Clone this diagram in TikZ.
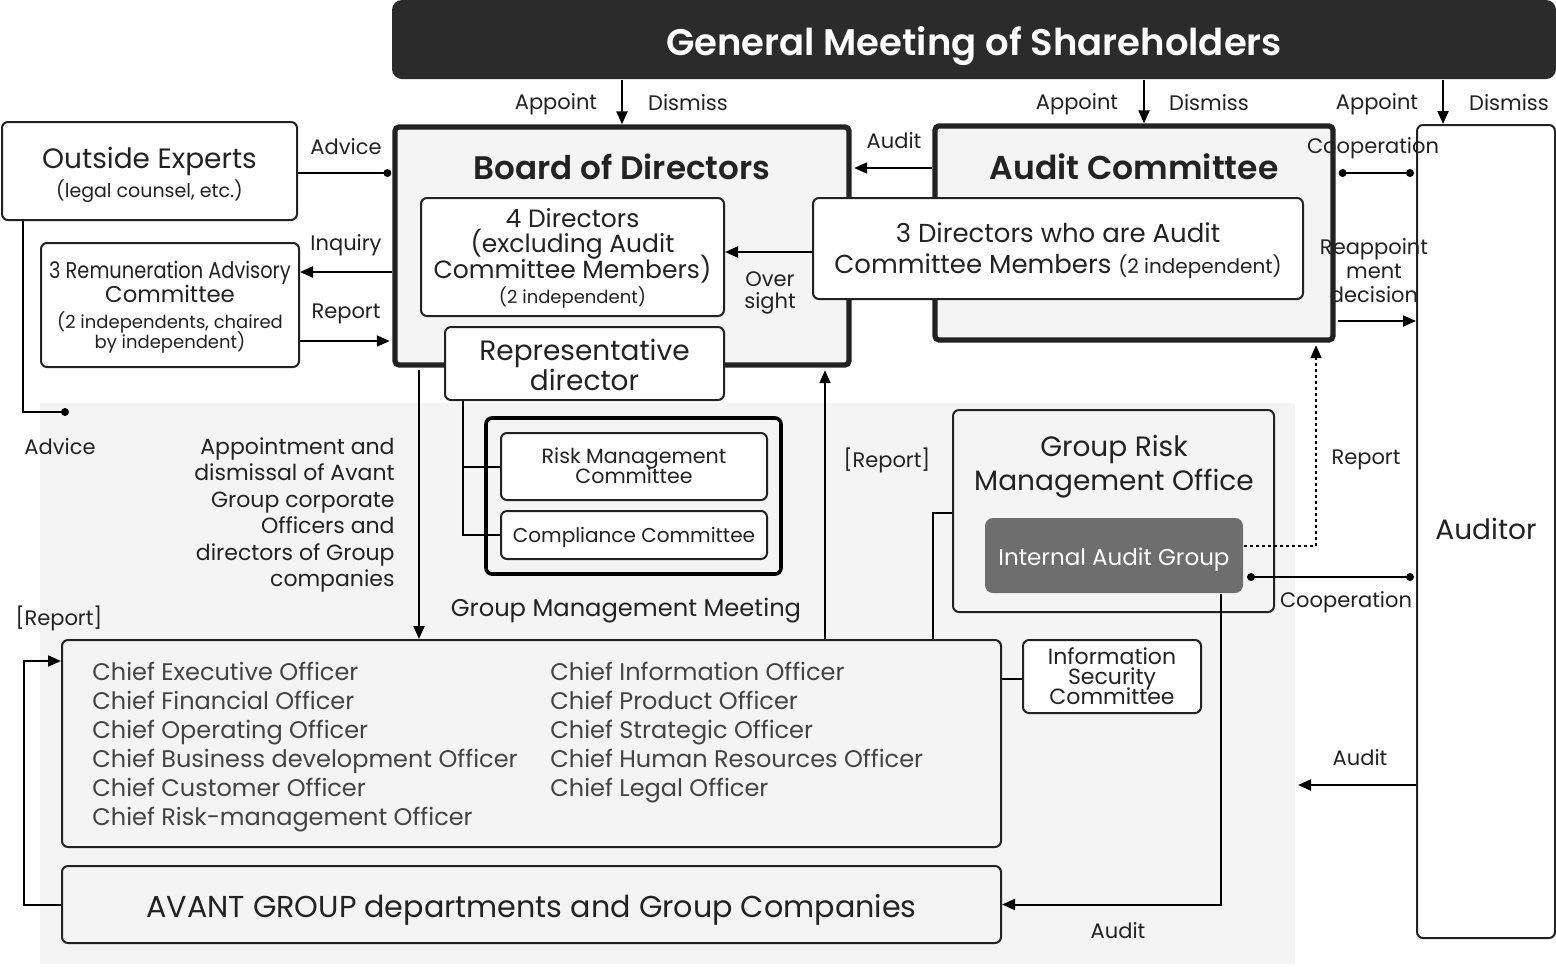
\documentclass[tikz,border=0pt]{standalone}
\usepackage{fontspec}
\usepackage{graphicx}
\setmainfont{Poppins}[BoldFont={Poppins SemiBold}]
\usetikzlibrary{arrows.meta,positioning,calc}
\lineskiplimit=-100pt

\definecolor{ink}{HTML}{222222}
\definecolor{panel}{HTML}{F4F4F4}
\definecolor{gmfill}{HTML}{2B2B2B}
\definecolor{iagfill}{HTML}{6E6E6E}

\tikzset{
  box/.style={draw=ink, line width=1pt, rounded corners=3pt, fill=white, align=center, inner sep=0pt, text=ink},
  heavybox/.style={draw=ink, line width=2.6pt, rounded corners=2pt, fill=panel, inner sep=0pt},
  lbl/.style={text=ink, font=\fontsize{10.5}{13}\selectfont, align=center, inner sep=0pt, yshift=-1pt},
  offtxt/.style={text=ink!85, font=\fontsize{12}{14}\selectfont, inner sep=0pt},
  arr/.style={-{Triangle[length=6.5pt,width=5.5pt]}, line width=1pt, draw=black},
  link/.style={line width=1pt, draw=black},
  dot/.style={circle, fill=black, inner sep=0pt, minimum size=4pt},
}

\begin{document}
\begin{tikzpicture}[x=0.5pt,y=-0.5pt]
\useasboundingbox (0,0) rectangle (1556,966);
% grey area of the group
\fill[panel] (40,403) rectangle (1295,964);

% levels of the connectors
\coordinate (yAdvice) at (0,173);
\coordinate (yInq) at (0,272);
\coordinate (yRep) at (0,341);
\coordinate (yAud) at (0,168);
\coordinate (yOver) at (0,252);
\coordinate (yCoop) at (0,173);
\coordinate (yReapp) at (0,321);
\coordinate (yRepDot) at (0,546);
\coordinate (yCoop2) at (0,577);
\coordinate (yGr) at (0,513);
\coordinate (yIsc) at (0,679);
\coordinate (yLoop) at (0,661);
\coordinate (xAC) at (1144,0);
\coordinate (xAud) at (1443,0);
\coordinate (xOE) at (23,0);
\coordinate (xDown) at (419,0);
\coordinate (xUp) at (825,0);
\coordinate (xRD) at (463,0);
\coordinate (xIAG) at (1221,0);
\coordinate (xRepDot) at (1316,0);
\coordinate (xGr) at (933,0);
\coordinate (xLoop) at (24,0);
\coordinate (advEnd) at (65,412);
\coordinate (audEnd) at (1298,785);

% shareholders
\node[box, fill=gmfill, draw=none, rounded corners=5pt, minimum width=582pt, minimum height=39.5pt,
  text=white, text height=20.1pt, text depth=4.6pt, font=\bfseries\fontsize{18.5}{20}\selectfont] (gms) at (974,39.5)
  {General Meeting of Shareholders};

% board of directors
\node[heavybox, minimum width=227pt, minimum height=119pt] (board) at (622,246) {};
\node[lbl, yshift=1pt, font=\bfseries\fontsize{16.3}{18}\selectfont] (boardT) at (622,167) {Board of Directors};
\node[box, minimum width=151.5pt, minimum height=59pt, text height=46.6pt, text depth=0pt,
  font=\fontsize{12.5}{12.75}\selectfont] (dir4) at (572.5,257)
  {4 Directors\\(excluding Audit\\Committee Members)\\\fontsize{9}{12.75}\selectfont (2 independent)};
\node[box, minimum width=139.5pt, minimum height=36.5pt, text height=26.8pt, text depth=0pt,
  font=\fontsize{14}{15}\selectfont] (repdir) at (584.5,363.5) {Representative\\director};

% audit committee
\node[heavybox, minimum width=199pt, minimum height=107pt] (ac) at (1134,233) {};
\node[lbl, yshift=1pt, font=\bfseries\fontsize{16.5}{18}\selectfont] (acT) at (1134,167) {Audit Committee};
\node[box, minimum width=245pt, minimum height=50.5pt, text height=24.6pt, text depth=0pt,
  font=\fontsize{13}{15.5}\selectfont] (dir3) at (1058,248.5)
  {3 Directors who are Audit\\Committee Members {\fontsize{10}{12}\selectfont (2 independent)}};

% auditor
\node[box, minimum width=69pt, minimum height=406.5pt, text height=11.9pt, text depth=3.6pt,
  font=\fontsize{14}{16}\selectfont] (auditor) at (1486,531.5) {Auditor};

% outside experts and remuneration
\node[box, minimum width=147.5pt, minimum height=49pt, text height=26.1pt, text depth=0pt,
  font=\fontsize{14}{12}\selectfont] (experts) at (149.5,171)
  {Outside Experts\\[2.5pt]\fontsize{9.5}{12}\selectfont (legal counsel, etc.)};
\node[box, minimum width=129pt, minimum height=62pt, text height=43.3pt, text depth=0pt,
  font=\fontsize{11.4}{12}\selectfont] (remun) at (170,305)
  {\scalebox{0.85}[1]{3 Remuneration Advisory}\\Committee\\[0.9pt]
   \fontsize{9}{12}\selectfont (2 independents, chaired\\[-2pt]\fontsize{9}{12}\selectfont by independent)};

% group risk management office
\node[box, fill=panel, minimum width=160.5pt, minimum height=101pt] (grmo) at (1113.5,511) {};
\node[lbl, font=\fontsize{14}{17}\selectfont] (grmoT) at (1114,465) {Group Risk\\Management Office};
\node[box, draw=none, fill=iagfill, text=white, rounded corners=4pt, minimum width=129pt, minimum height=37.5pt,
  text height=12.5pt, text depth=3pt, font=\fontsize{11.5}{13}\selectfont] (iag) at (1114,555.5) {Internal Audit Group};

% group management meeting
\node[draw=black, line width=1.8pt, rounded corners=3pt, minimum width=147.5pt, minimum height=78pt] (gmm) at (633.5,496) {};
\node[box, minimum width=133pt, minimum height=33.5pt, text height=16.7pt, text depth=0pt,
  font=\fontsize{10.3}{10}\selectfont] (rmc) at (634,466.5) {Risk Management\\Committee};
\node[box, minimum width=133pt, minimum height=24pt, text height=9.6pt, text depth=2.6pt,
  font=\fontsize{10}{11}\selectfont] (comp) at (634,535) {Compliance Committee};
\node[lbl, font=\fontsize{12.1}{13}\selectfont] (gmmT) at (626,609) {Group Management Meeting};

% officers
\node[box, fill=panel, minimum width=469.5pt, minimum height=103.5pt] (officers) at (531.5,743.5) {};
\foreach \t [count=\i] in {Chief Executive Officer, Chief Financial Officer, Chief Operating Officer,
  Chief Business development Officer, Chief Customer Officer, Chief Risk-management Officer}
  \node[offtxt, anchor=base west] (offL\i) at (92,651.5+29*\i) {\t};
\foreach \t [count=\i] in {Chief Information Officer, Chief Product Officer, Chief Strategic Officer,
  Chief Human Resources Officer, Chief Legal Officer}
  \node[offtxt, anchor=base west] (offR\i) at (550,651.5+29*\i) {\t};
\node[box, minimum width=89pt, minimum height=36.5pt, text height=27.6pt, text depth=0pt,
  font=\fontsize{11}{10}\selectfont] (isc) at (1112,676.5) {Information\\Security\\Committee};
\node[box, fill=panel, minimum width=469.5pt, minimum height=38.5pt, text height=16.5pt, text depth=4pt,
  font=\fontsize{15.1}{18}\selectfont] (avant) at (531.5,904.5) {AVANT GROUP departments and Group Companies};

% appoint / dismiss
\draw[arr] (gms.south -| board.north) -- (board.north);
\draw[arr] (gms.south -| xAC) -- (ac.north -| xAC);
\draw[arr] (gms.south -| xAud) -- (auditor.north -| xAud);
\node[lbl] (ap1) at (556,102) {Appoint};
\node[lbl] (dm1) at (688,101) {Dismiss};
\node[lbl] (ap2) at (1077,102) {Appoint};
\node[lbl] (dm2) at (1209,101) {Dismiss};
\node[lbl] (ap3) at (1377,102) {Appoint};
\node[lbl] (dm3) at (1509,101) {Dismiss};

% experts, remuneration
\draw[link] (experts.east |- yAdvice) -- ($(board.west |- yAdvice)+(-5,0)$) node[dot] (advDot1) {};
\node[lbl] (advice1) at (346,145) {Advice};
\draw[link] (experts.south -| xOE) |- (advEnd) node[dot] (advDot2) {};
\node[lbl] (advice2) at (60,445) {Advice};
\draw[arr] (board.west |- yInq) -- (remun.east |- yInq);
\node[lbl] (inquiry) at (346,243) {Inquiry};
\draw[arr, shorten >=1.3pt] (remun.east |- yRep) -- (board.west |- yRep);
\node[lbl] (report1) at (346,312) {Report};

% board and audit committee
\draw[arr, shorten >=1.3pt] (ac.west |- yAud) -- (board.east |- yAud);
\node[lbl] (audit1) at (894,139) {Audit};
\draw[arr] (dir3.west |- yOver) -- (dir4.east |- yOver);
\node[lbl, font=\fontsize{10.5}{11}\selectfont] (oversight) at (770,291) {Over\\sight};

% audit committee and auditor
\draw[link] ($(ac.east |- yCoop)+(7,0)$) node[dot] (coopA) {} -- ($(auditor.west |- yCoop)+(-6,0)$) node[dot] (coopB) {};
\node[lbl] (coop1) at (1373,146) {Cooperation};
\draw[arr, shorten <=1.3pt] (ac.east |- yReapp) -- (auditor.west |- yReapp);
\node[lbl, font=\fontsize{10.5}{12}\selectfont] (reapp) at (1374,269) {Reappoint\\ment\\decision};

% internal audit
\draw[arr, line width=0.8pt, dash pattern=on 1.5pt off 1.5pt] (iag.east |- yRepDot) -| ($(ac.south -| xRepDot)+(0,2.6)$);
\node[lbl] (report2) at (1366,458) {Report};
\draw[link] ($(iag.east |- yCoop2)+(7,0)$) node[dot] (coopC) {} -- ($(auditor.west |- yCoop2)+(-6,0)$) node[dot] (coopD) {};
\node[lbl] (coop2) at (1346,600) {Cooperation};
\draw[arr] (iag.south -| xIAG) |- (avant.east);
\node[lbl] (audit2) at (1118,929) {Audit};
\draw[arr] (auditor.west |- audEnd) -- (audEnd);
\node[lbl] (audit3) at (1360,756) {Audit};

% executive side
\draw[link] (grmo.west |- yGr) -| (officers.north -| xGr);
\draw[link] (officers.east |- yIsc) -- (isc.west |- yIsc);
\draw[arr] ($(board.south -| xDown)+(0,2.6)$) -- (officers.north -| xDown);
\node[lbl, align=right, anchor=east, font=\fontsize{11}{13.2}\selectfont] (apptxt) at (395,513)
  {Appointment and\\dismissal of Avant\\Group corporate\\Officers and\\directors of Group\\companies};
\draw[arr, shorten >=1.3pt] (officers.north -| xUp) -- (board.south -| xUp);
\node[lbl] (report3) at (887,458) {[Report]};
\draw[link] (repdir.south -| xRD) |- (rmc.west);
\draw[link] (repdir.south -| xRD) |- (comp.west);
\draw[arr] (avant.west) -| (xLoop |- yLoop) -- (officers.west |- yLoop);
\node[lbl] (report4) at (59,616) {[Report]};
\end{tikzpicture}
\end{document}
